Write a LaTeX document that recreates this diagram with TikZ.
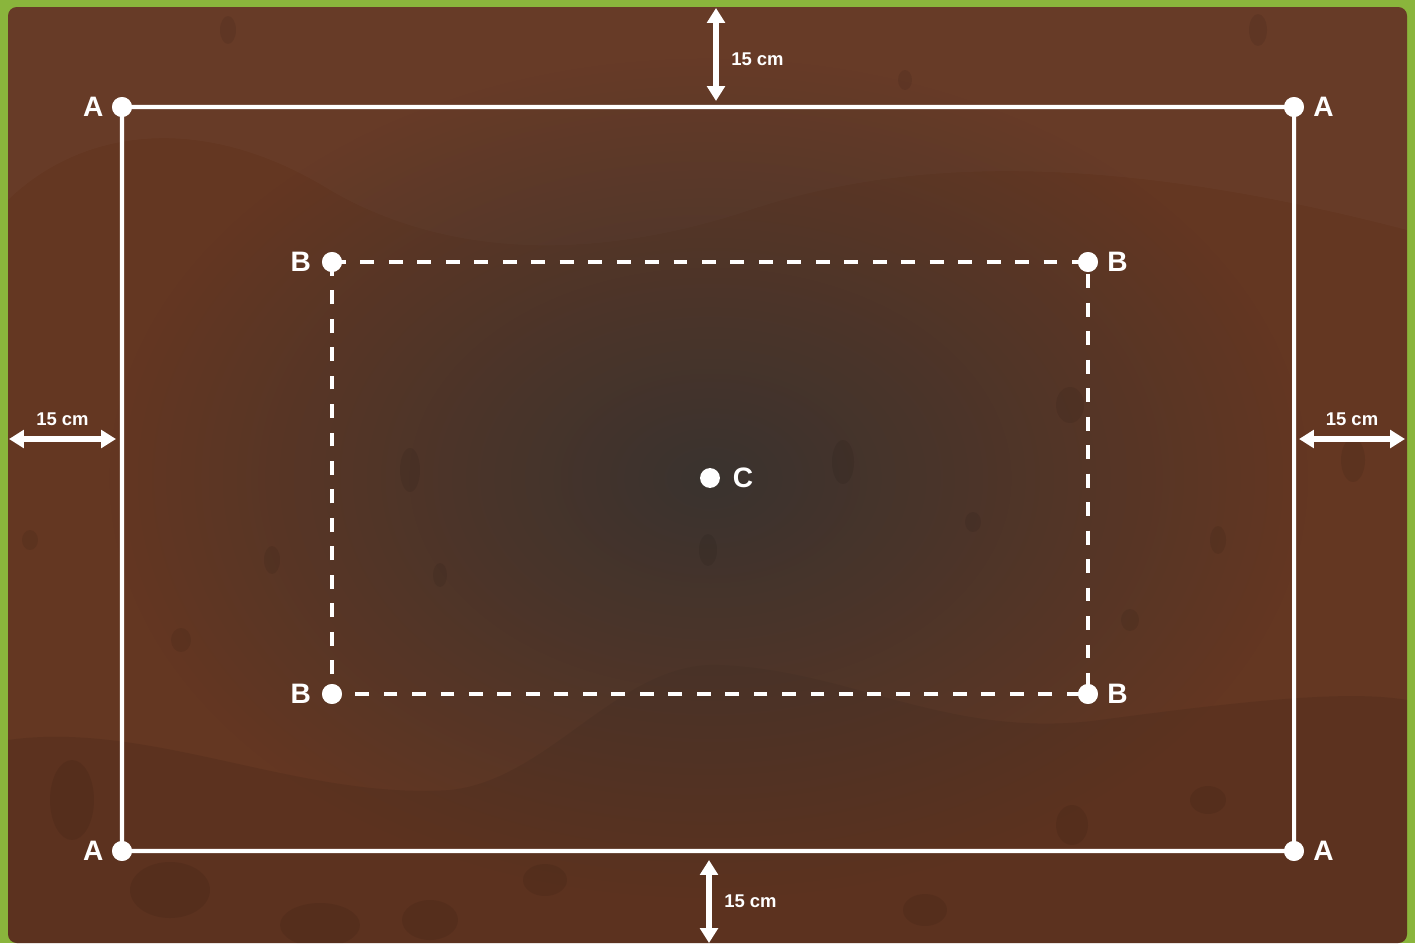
\documentclass[tikz,border=0pt]{standalone}
\usepackage{fontspec}
\setmainfont{Liberation Sans}
\usetikzlibrary{positioning,arrows.meta,fadings}
\definecolor{grass}{HTML}{8AB53C}
\definecolor{soil}{HTML}{643722}
\definecolor{deepsoil}{HTML}{3A332F}
\tikzfading[name=soilglow,inner color=transparent!0,outer color=transparent!100]
\tikzset{
  corner/.style={circle,fill=white,inner sep=0pt,minimum size=11.3pt},
  letter/.style={text=white,inner sep=0pt,font=\bfseries\fontsize{16}{18}\selectfont},
  dist/.style={text=white,inner sep=1pt,font=\bfseries\fontsize{10.5}{12}\selectfont},
  fence/.style={white,line width=2.3pt},
  gap/.style={white,line width=3.4pt,{Triangle[length=8.5pt,width=10pt]}-{Triangle[length=8.5pt,width=10pt]}},
  spot/.style={black,opacity=0.07},
}
\begin{document}
\begin{tikzpicture}[x=0.02cm,y=-0.02cm,line join=round]
  \useasboundingbox (0,0) rectangle (1415,943);
  % grass and soil
  \fill[grass] (0,0) rectangle (1415,943);
  \fill[soil,rounded corners=5pt] (8,7) rectangle (1407,943);
  \begin{scope}
    \clip[rounded corners=5pt] (8,7) rectangle (1407,943);
    \fill[white,opacity=0.025] (8,7) -- (8,200) .. controls (80,130) and (200,110) .. (330,190)
      .. controls (450,260) and (600,260) .. (750,210) .. controls (900,160) and (1100,150) .. (1407,230)
      -- (1407,7) -- cycle;
    \fill[black,opacity=0.08] (8,740) .. controls (150,720) and (300,800) .. (450,790)
      .. controls (550,780) and (620,660) .. (720,665) .. controls (850,670) and (950,740) .. (1100,720)
      .. controls (1250,700) and (1350,690) .. (1407,700) -- (1407,943) -- (8,943) -- cycle;
    \fill[deepsoil,path fading=soilglow] (710,478) ellipse (600 and 420);
    % stones
    \fill[spot] (228,30) ellipse (8 and 14);
    \fill[spot] (905,80) ellipse (7 and 10);
    \fill[spot] (1258,30) ellipse (9 and 16);
    \fill[spot] (410,470) ellipse (10 and 22);
    \fill[spot] (843,462) ellipse (11 and 22);
    \fill[spot] (708,550) ellipse (9 and 16);
    \fill[spot] (272,560) ellipse (8 and 14);
    \fill[spot] (440,575) ellipse (7 and 12);
    \fill[spot] (1070,405) ellipse (14 and 18);
    \fill[spot] (973,522) ellipse (8 and 10);
    \fill[spot] (1218,540) ellipse (8 and 14);
    \fill[spot] (1353,460) ellipse (12 and 22);
    \fill[spot] (181,640) ellipse (10 and 12);
    \fill[spot] (30,540) ellipse (8 and 10);
    \fill[spot] (1130,620) ellipse (9 and 11);
    \fill[spot] (1208,800) ellipse (18 and 14);
    \fill[spot] (1072,825) ellipse (16 and 20);
    \fill[spot] (925,910) ellipse (22 and 16);
    \fill[spot] (170,890) ellipse (40 and 28);
    \fill[spot] (430,920) ellipse (28 and 20);
    \fill[spot] (545,880) ellipse (22 and 16);
    \fill[spot] (320,925) ellipse (40 and 22);
    \fill[spot] (72,800) ellipse (22 and 40);
  \end{scope}

  % corner points
  \node[corner] (a1) at (122,107) {};
  \node[corner] (a2) at (1294,107) {};
  \node[corner] (a3) at (1294,851) {};
  \node[corner] (a4) at (122,851) {};
  \node[corner] (b1) at (332,262) {};
  \node[corner] (b2) at (1088,262) {};
  \node[corner] (b3) at (1088,694) {};
  \node[corner] (b4) at (332,694) {};
  \node[corner] (c) at (710,478) {};

  \draw[fence,rounded corners=5pt] (a1.center) -- (a2.center) -- (a3.center) -- (a4.center) -- cycle;
  \draw[fence,dash pattern=on 7.9pt off 8.3pt] (b1.center) -- (b2.center) -- (b3.center) -- (b4.center) -- cycle;
  \foreach \p in {a1,a2,a3,a4,b1,b2,b3,b4}
    \fill[white] (\p) circle (5.65pt);

  \node[letter,left=4.5pt of a1] (la1) {A};
  \node[letter,right=5pt of a2] (la2) {A};
  \node[letter,right=5pt of a3] (la3) {A};
  \node[letter,left=4.5pt of a4] (la4) {A};
  \node[letter,left=6pt of b1] (lb1) {B};
  \node[letter,right=5pt of b2] (lb2) {B};
  \node[letter,right=5pt of b3] (lb3) {B};
  \node[letter,left=6pt of b4] (lb4) {B};
  \node[letter,right=7pt of c] (lc) {C};

  % 15 cm gaps
  \coordinate (t1) at (716,8);
  \coordinate (t2) at (716,101);
  \coordinate (d1) at (709,860);
  \coordinate (d2) at (709,943);
  \coordinate (l1) at (9,439);
  \coordinate (l2) at (116,439);
  \coordinate (r1) at (1299,439);
  \coordinate (r2) at (1405,439);
  \draw[gap] (t1) -- node[dist,right=6pt,yshift=-2.5pt] (gt) {15 cm} (t2);
  \draw[gap] (d1) -- node[dist,right=6pt] (gd) {15 cm} (d2);
  \draw[gap] (l1) -- node[dist,above=5pt] (gl) {15 cm} (l2);
  \draw[gap] (r1) -- node[dist,above=5pt] (gr) {15 cm} (r2);
\end{tikzpicture}
\end{document}
